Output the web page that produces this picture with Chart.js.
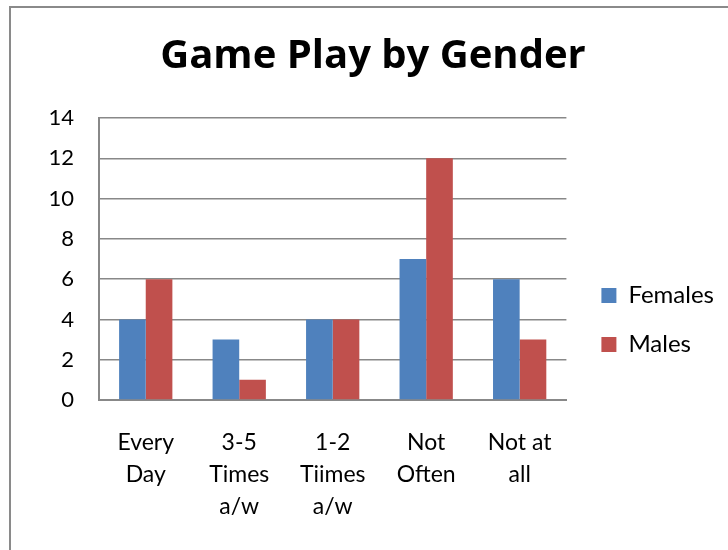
<!DOCTYPE html>
<html>
<head>
<meta charset="utf-8">
<script src="https://cdn.jsdelivr.net/npm/chart.js@4/dist/chart.umd.min.js"></script>
<style>
  html, body { margin: 0; padding: 0; background: #fff; overflow: hidden; }
  #wrap { position: relative; width: 728px; height: 550px; }
  #frame { position: absolute; left: 9px; top: 6px; width: 800px; height: 700px;
           border-left: 2px solid #8a8a8a; border-top: 2px solid #8a8a8a; pointer-events: none; }
  canvas { position: absolute; left: 0; top: 0; }
</style>
</head>
<body>
<div id="wrap">
  <canvas id="c" width="728" height="550"></canvas>
  <div id="frame"></div>
</div>
<script>
const categories = [["Every", "Day"], ["3-5", "Times", "a/w"], ["1-2", "Tiimes", "a/w"], ["Not", "Often"], ["Not at", "all"]];
const females = [4, 3, 4, 7, 6];
const males = [6, 1, 4, 12, 3];
const seriesNames = ["Females", "Males"];
const yTicks = [0, 2, 4, 6, 8, 10, 12, 14];
const titleText = "Game Play by Gender";

const FONT = "Lato, 'Liberation Sans', sans-serif";
const TITLE_FONT = "'Open Sans', Lato, sans-serif";

const legendShift = {
  id: 'legendShift',
  afterLayout(chart) {
    const lg = chart.legend;
    if (!lg) return;
    const dx = 10, dy = 45;
    lg.left += dx; lg.right += dx;
    lg.top += dy; lg.bottom += dy;
  }
};

new Chart(document.getElementById('c'), {
  type: 'bar',
  data: {
    labels: categories,
    datasets: [
      { label: seriesNames[0], data: females, backgroundColor: '#4F81BD', borderWidth: 0 },
      { label: seriesNames[1], data: males, backgroundColor: '#C0504D', borderWidth: 0 }
    ]
  },
  plugins: [legendShift],
  options: {
    responsive: false,
    animation: false,
    devicePixelRatio: 1,
    layout: { padding: { left: 32, right: 14, top: 0, bottom: 0 } },
    datasets: { bar: { categoryPercentage: 0.57, barPercentage: 1.0 } },
    plugins: {
      title: {
        display: true,
        text: titleText,
        color: '#000',
        font: { family: TITLE_FONT, size: 40, weight: 'bold', lineHeight: 1.2 },
        padding: { top: 33, bottom: 37 }
      },
      legend: {
        position: 'right',
        labels: {
          color: '#000',
          font: { family: FONT, size: 24 },
          boxWidth: 15,
          boxHeight: 15,
          padding: 25
        }
      },
      tooltip: { enabled: false }
    },
    scales: {
      x: {
        grid: { display: false, drawTicks: false },
        border: { display: true, color: '#888', width: 2 },
        ticks: {
          color: '#000',
          font: { family: FONT, size: 23, lineHeight: 1.39 },
          padding: 27,
          maxRotation: 0,
          autoSkip: false
        },
        afterFit(scale) { scale.height = 150; }
      },
      y: {
        min: 0,
        max: 14,
        afterBuildTicks(scale) { scale.ticks = yTicks.map(v => ({ value: v })); },
        grid: { color: '#888', lineWidth: 1.5, drawTicks: false },
        border: { display: true, color: '#888', width: 2 },
        ticks: {
          color: '#000',
          font: { family: FONT, size: 22 },
          padding: 25
        },
        afterFit(scale) { scale.width = 67; }
      }
    }
  }
});
</script>
</body>
</html>
